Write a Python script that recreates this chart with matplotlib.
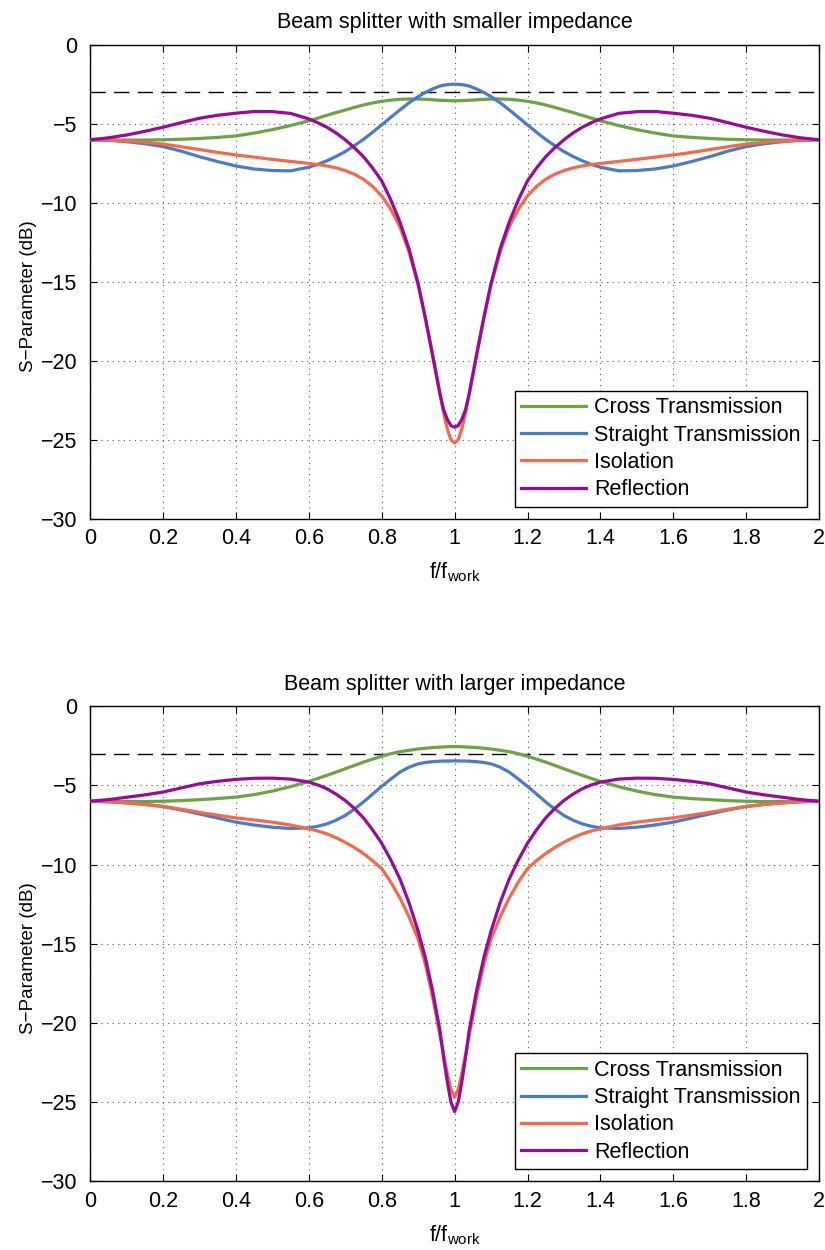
import matplotlib
matplotlib.use("Agg")
import matplotlib.pyplot as plt
from matplotlib.ticker import FormatStrFormatter

plt.rcParams["font.family"] = ["Liberation Sans", "DejaVu Sans"]
plt.rcParams["mathtext.fontset"] = "custom"
plt.rcParams["mathtext.rm"] = "Liberation Sans"

# normalised frequency f/f_work
FREQ = [0.0, 0.05, 0.1, 0.15, 0.2, 0.25, 0.3, 0.35, 0.4, 0.45, 0.5, 0.55, 0.6,
        0.625, 0.65, 0.675, 0.7, 0.725, 0.75, 0.775, 0.8, 0.825, 0.85, 0.875, 0.9,
        0.92, 0.94, 0.96, 0.97, 0.98, 0.99, 1.0,
        1.01, 1.02, 1.03, 1.04, 1.06, 1.08, 1.1, 1.125, 1.15, 1.175, 1.2, 1.225,
        1.25, 1.275, 1.3, 1.325, 1.35, 1.375, 1.4, 1.45, 1.5, 1.55, 1.6, 1.65, 1.7,
        1.75, 1.8, 1.85, 1.9, 1.95, 2.0]

# smaller impedance (dB)
CROSS_SMALL = [-6.0, -6.01, -6.02, -6.02, -6.0, -5.97, -5.92, -5.85, -5.76, -5.58, -5.36, -5.1, -4.8,
               -4.63, -4.45, -4.28, -4.12, -3.95, -3.8, -3.67, -3.57, -3.49, -3.44, -3.42, -3.42,
               -3.44, -3.47, -3.5, -3.51, -3.52, -3.53, -3.53,
               -3.53, -3.52, -3.51, -3.5, -3.47, -3.44, -3.42, -3.42, -3.44, -3.49, -3.57, -3.67,
               -3.8, -3.95, -4.12, -4.28, -4.45, -4.63, -4.8, -5.1, -5.36, -5.58, -5.76, -5.85, -5.92,
               -5.97, -6.0, -6.02, -6.02, -6.01, -6.0]
STRAIGHT_SMALL = [-6.0, -6.03, -6.12, -6.25, -6.43, -6.72, -7.07, -7.38, -7.66, -7.85, -7.95, -7.97, -7.74,
                  -7.56, -7.33, -7.06, -6.75, -6.38, -5.98, -5.53, -5.06, -4.58, -4.11, -3.66, -3.27,
                  -3.0, -2.78, -2.6, -2.55, -2.51, -2.49, -2.48,
                  -2.49, -2.51, -2.55, -2.6, -2.78, -3.0, -3.27, -3.66, -4.11, -4.58, -5.06, -5.53,
                  -5.98, -6.38, -6.75, -7.06, -7.33, -7.56, -7.74, -7.97, -7.95, -7.85, -7.66, -7.38, -7.07,
                  -6.72, -6.43, -6.25, -6.12, -6.03, -6.0]
ISOLATION_SMALL = [-6.0, -6.02, -6.08, -6.16, -6.27, -6.44, -6.62, -6.8, -6.96, -7.1, -7.24, -7.37, -7.5,
                   -7.57, -7.66, -7.78, -7.95, -8.18, -8.5, -8.95, -9.55, -10.4, -11.5, -13.1, -15.2,
                   -17.3, -19.6, -22.1, -23.3, -24.3, -25.0, -25.2,
                   -25.0, -24.3, -23.3, -22.1, -19.6, -17.3, -15.2, -13.1, -11.5, -10.4, -9.55, -8.95,
                   -8.5, -8.18, -7.95, -7.78, -7.66, -7.57, -7.5, -7.37, -7.24, -7.1, -6.96, -6.8, -6.62,
                   -6.44, -6.27, -6.16, -6.08, -6.02, -6.0]
REFLECTION_SMALL = [-6.0, -5.88, -5.7, -5.47, -5.21, -4.92, -4.64, -4.45, -4.32, -4.21, -4.22, -4.33, -4.68,
                    -4.92, -5.21, -5.57, -6.0, -6.5, -7.07, -7.78, -8.6, -9.8, -11.2, -12.9, -15.1,
                    -17.3, -19.7, -22.1, -23.1, -23.7, -24.1, -24.2,
                    -24.1, -23.7, -23.1, -22.1, -19.7, -17.3, -15.1, -12.9, -11.2, -9.8, -8.6, -7.78,
                    -7.07, -6.5, -6.0, -5.57, -5.21, -4.92, -4.68, -4.33, -4.22, -4.21, -4.32, -4.45, -4.64,
                    -4.92, -5.21, -5.47, -5.7, -5.88, -6.0]

# larger impedance (dB)
CROSS_LARGE = [-6.0, -6.01, -6.02, -6.02, -6.0, -5.96, -5.9, -5.83, -5.74, -5.58, -5.36, -5.08, -4.75,
               -4.56, -4.36, -4.16, -3.95, -3.74, -3.53, -3.34, -3.16, -3.0, -2.87, -2.78, -2.7,
               -2.65, -2.61, -2.58, -2.57, -2.56, -2.55, -2.55,
               -2.55, -2.56, -2.57, -2.58, -2.61, -2.65, -2.7, -2.78, -2.87, -3.0, -3.16, -3.34,
               -3.53, -3.74, -3.95, -4.16, -4.36, -4.56, -4.75, -5.08, -5.36, -5.58, -5.74, -5.83, -5.9,
               -5.96, -6.0, -6.02, -6.02, -6.01, -6.0]
STRAIGHT_LARGE = [-6.0, -6.03, -6.1, -6.2, -6.33, -6.55, -6.8, -7.06, -7.32, -7.5, -7.64, -7.72, -7.68,
                  -7.58, -7.43, -7.2, -6.9, -6.5, -6.05, -5.55, -5.06, -4.6, -4.16, -3.85, -3.64,
                  -3.55, -3.5, -3.47, -3.46, -3.46, -3.45, -3.45,
                  -3.45, -3.46, -3.46, -3.47, -3.5, -3.55, -3.64, -3.85, -4.16, -4.6, -5.06, -5.55,
                  -6.05, -6.5, -6.9, -7.2, -7.43, -7.58, -7.68, -7.72, -7.64, -7.5, -7.32, -7.06, -6.8,
                  -6.55, -6.33, -6.2, -6.1, -6.03, -6.0]
ISOLATION_LARGE = [-6.0, -6.03, -6.1, -6.2, -6.33, -6.5, -6.7, -6.88, -7.05, -7.18, -7.32, -7.5, -7.74,
                   -7.88, -8.06, -8.3, -8.59, -8.92, -9.3, -9.75, -10.25, -11.1, -12.1, -13.3, -14.7,
                   -16.3, -18.4, -20.8, -22.0, -23.2, -24.2, -24.7,
                   -24.2, -23.2, -22.0, -20.8, -18.4, -16.3, -14.7, -13.3, -12.1, -11.1, -10.25, -9.75,
                   -9.3, -8.92, -8.59, -8.3, -8.06, -7.88, -7.74, -7.5, -7.32, -7.18, -7.05, -6.88, -6.7,
                   -6.5, -6.33, -6.2, -6.1, -6.03, -6.0]
REFLECTION_LARGE = [-6.0, -5.9, -5.75, -5.6, -5.42, -5.16, -4.9, -4.74, -4.62, -4.55, -4.54, -4.6, -4.79,
                    -4.97, -5.21, -5.55, -5.95, -6.45, -7.05, -7.8, -8.65, -9.7, -10.9, -12.4, -14.2,
                    -15.9, -18.0, -20.5, -22.2, -23.7, -25.0, -25.6,
                    -25.0, -23.7, -22.2, -20.5, -18.0, -15.9, -14.2, -12.4, -10.9, -9.7, -8.65, -7.8,
                    -7.05, -6.45, -5.95, -5.55, -5.21, -4.97, -4.79, -4.6, -4.54, -4.55, -4.62, -4.74, -4.9,
                    -5.16, -5.42, -5.6, -5.75, -5.9, -6.0]

LABELS = ["Cross Transmission", "Straight Transmission", "Isolation", "Reflection"]
COLORS = ["#6ba443", "#4a7bcb", "#f4694a", "#990a99"]
TITLES = ["Beam splitter with smaller impedance", "Beam splitter with larger impedance"]
X_TICKS = [0, 0.2, 0.4, 0.6, 0.8, 1.0, 1.2, 1.4, 1.6, 1.8, 2.0]
Y_TICKS = [0, -5, -10, -15, -20, -25, -30]
HALF_POWER = -3


def draw_panel(ax, series, title):
    ax.axhline(HALF_POWER, color="black", lw=1.0, dashes=(11, 6), zorder=2)
    for values, label, color in zip(series, LABELS, COLORS):
        ax.plot(FREQ, values, color=color, lw=2.3, label=label, zorder=3,
                solid_joinstyle="round")

    ax.set_xlim(0, 2)
    ax.set_ylim(-30, 0)
    ax.set_xticks(X_TICKS)
    ax.set_yticks(Y_TICKS)
    ax.xaxis.set_major_formatter(FormatStrFormatter("%g"))
    ax.grid(True, linestyle=(0, (1, 4)), color="#555555", lw=0.8)
    ax.tick_params(direction="in", top=True, right=True, length=5,
                   labelsize=15.5, pad=7)
    ax.tick_params(axis="y", pad=9)
    for spine in ax.spines.values():
        spine.set_linewidth(1.0)

    ax.set_title(title, fontsize=15.5, pad=12)
    ax.set_xlabel(r"f/f$_{\mathregular{work}}$", fontsize=15.5, labelpad=8)
    ax.set_ylabel("S\u2212Parameter (dB)", fontsize=13.5)
    ax.yaxis.set_label_coords(-0.073, 0.47)

    leg = ax.legend(loc="lower right", fontsize=15.5, frameon=True, fancybox=False,
                    edgecolor="black", handlelength=3.0, handletextpad=0.4,
                    labelspacing=0.3, borderpad=0.3, borderaxespad=0.55)
    leg.get_frame().set_linewidth(1.0)
    leg.get_frame().set_alpha(1.0)


fig = plt.figure(figsize=(8.25, 12.5), dpi=100)
ax_top = fig.add_axes([0.109, 0.585, 0.884, 0.379])
ax_bot = fig.add_axes([0.109, 0.055, 0.884, 0.380])

draw_panel(ax_top, [CROSS_SMALL, STRAIGHT_SMALL, ISOLATION_SMALL, REFLECTION_SMALL], TITLES[0])
draw_panel(ax_bot, [CROSS_LARGE, STRAIGHT_LARGE, ISOLATION_LARGE, REFLECTION_LARGE], TITLES[1])

fig.savefig("out.png", dpi=100)
